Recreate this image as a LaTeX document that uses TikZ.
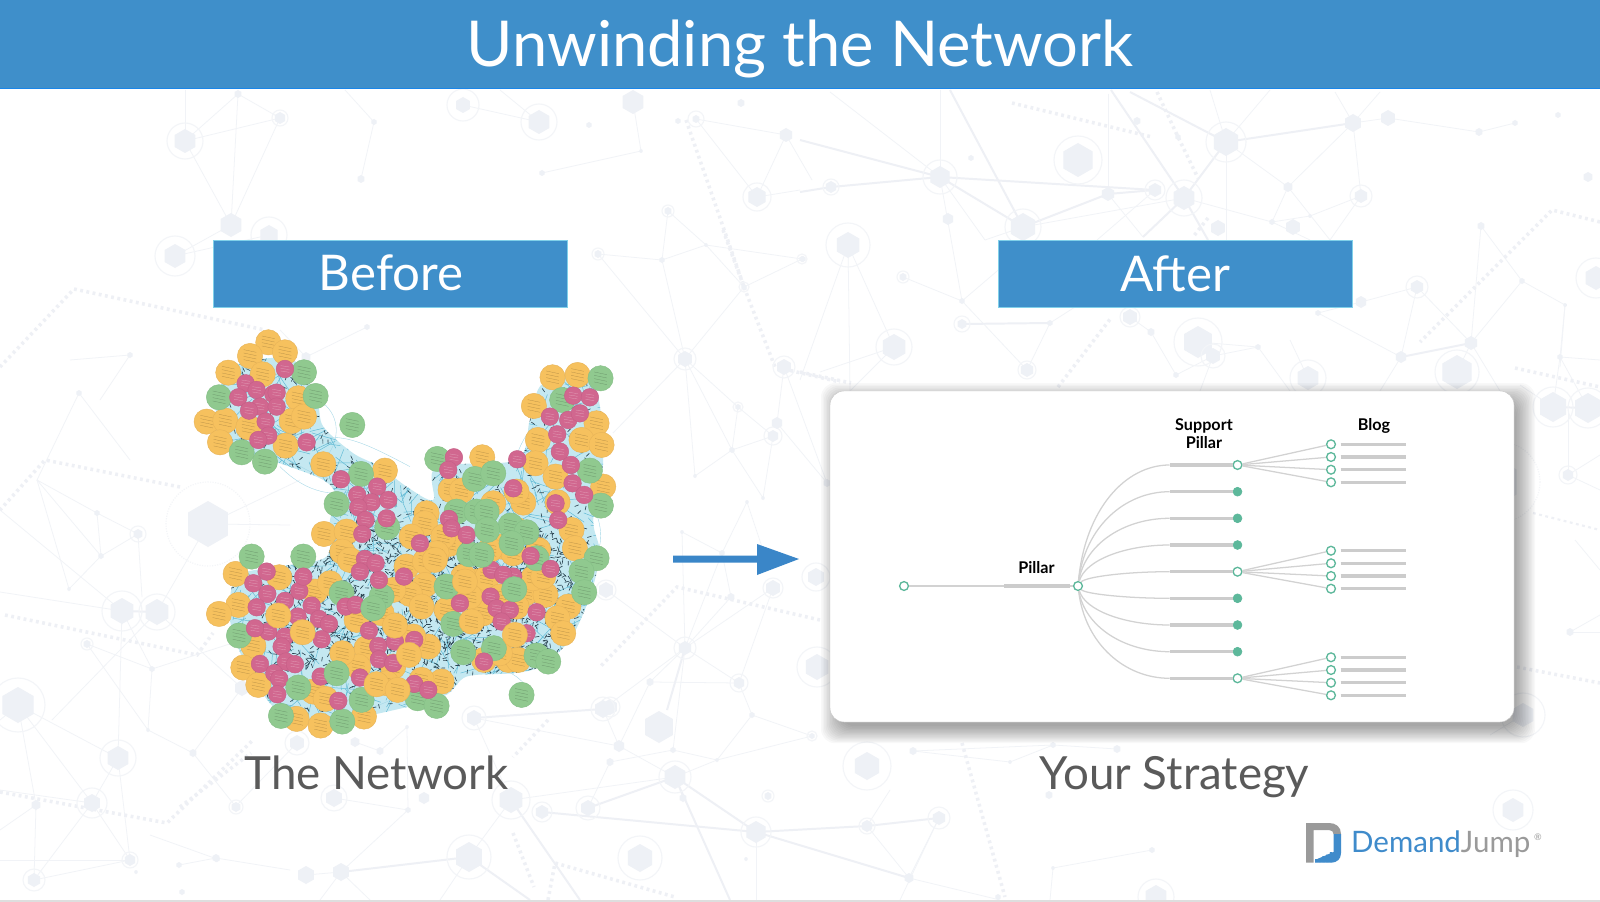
\documentclass[tikz,border=0pt]{standalone}
\usepackage{fontspec}
\setmainfont{Lato}
\definecolor{barblue}{HTML}{3F8FCA}
\definecolor{arrowblue}{HTML}{3A86C8}
\definecolor{bghex}{HTML}{EEF1F6}
\definecolor{bgring}{HTML}{F3F5F8}
\definecolor{bgedge}{HTML}{F1F3F7}
\definecolor{bgthick}{HTML}{EEF0F5}
\definecolor{capgray}{HTML}{5A5A5A}
\definecolor{treegreen}{HTML}{5DB89B}
\definecolor{treebar}{HTML}{CCCCCC}
\definecolor{treeline}{HTML}{D2D2D2}
\definecolor{ycol}{HTML}{F6C15E}
\definecolor{yedge}{HTML}{E8B458}
\definecolor{gcol}{HTML}{90C98F}
\definecolor{gedge}{HTML}{84BF86}
\definecolor{mcol}{HTML}{D1678F}
\definecolor{medge}{HTML}{C55E86}
\definecolor{webcol}{HTML}{C4E8F1}
\definecolor{webline}{HTML}{62BBD5}
\definecolor{webdash}{HTML}{2A4350}
\definecolor{logogray}{HTML}{9A9A9A}
\definecolor{logoblue}{HTML}{3F8BCB}
\tikzset{
  bge/.style={bgedge,line width=1.1pt},
  bgt/.style={bgthick,line width=2.8pt},
  bgd/.style={bgthick,line width=5pt,dash pattern=on 4pt off 5pt},
  openn/.style={circle,draw=treegreen,fill=white,line width=1.9pt,minimum size=12.5pt,inner sep=0pt},
  filln/.style={circle,draw=treegreen,fill=treegreen,line width=1pt,minimum size=12.5pt,inner sep=0pt},
  barline/.style={treebar,line width=5pt},
  link/.style={treeline,line width=1.8pt},
  cardlabel/.style={font=\bfseries\fontsize{23}{25}\selectfont,text=black,inner sep=0pt,anchor=base,align=center},
  boxlabel/.style={font=\fontsize{70}{72}\selectfont,text=white,inner sep=0pt,anchor=base},
  caplabel/.style={font=\fontsize{65}{68}\selectfont,text=capgray,inner sep=0pt,anchor=base},
}
\newcommand\hx[4]{%
  \fill[bghex] (#1,#2) +(30:#3)--+(90:#3)--+(150:#3)--+(210:#3)--+(270:#3)--+(330:#3)--cycle;
  \ifnum#4>0 \draw[bgring,line width=1.6pt] (#1,#2) circle (#4);\fi}
\newcommand\disc[4]{%
  \fill[#1,draw=#2,line width=.6pt] (#3,#4) circle (38);
  \foreach \ql in {-15,-5,5,15}{\draw[black,opacity=.25,line width=.4pt] (#3-19,#4+\ql-4)--(#3+19,#4+\ql+4);}}
\newcommand\pdisc[2]{%
  \fill[mcol,draw=medge,line width=.6pt] (#1,#2) circle (26.5);
  \foreach \ql in {-8,0,8}{\draw[white,opacity=.4,line width=.4pt] (#1-13,#2+\ql-2)--(#1+13,#2+\ql+2);}}
\begin{document}
\begin{tikzpicture}[x=0.05cm,y=-0.05cm]
\useasboundingbox (0,0) rectangle (1600,902);
\fill[white] (0,0) rectangle (1600,902);
% ---------- faint background network
\foreach \pa/\pb/\pc/\pd in {
185/141/238/94,238/94/280/118,280/118/185/141,185/141/231/225,231/225/280/118,238/94/231/225,185/90/185/141,345/90/374/122,374/122/361/179,542/173/641/151,641/151/633/102,463/105/539/122,539/122/500/90,231/225/175/256,175/256/269/235,
696/119/786/135,786/135/757/197,696/119/757/197,786/135/812/180,757/197/800/190,668/211/662/260,662/260/685/359,668/211/706/245,706/245/744/287,744/287/685/359,598/254/662/260,662/260/706/245,598/254/685/359,744/287/802/259,706/245/802/259,
685/359/738/407,685/359/732/450,685/359/695/476,685/359/613/433,738/407/732/450,732/450/695/476,732/450/773/436,732/450/763/498,738/407/773/436,773/436/763/498,784/367/777/423,784/367/827/483,777/423/827/483,
682/532/722/553,747/502/722/553,747/502/763/550,722/553/731/597,682/532/685/648,722/553/685/648,731/597/685/648,773/588/685/648,773/588/739/683,685/648/606/590,685/648/650/682,685/648/739/683,650/682/739/683,650/682/619/746,685/648/673/750,739/683/752/715,685/648/603/709,
940/90/940/177,830/92/940/177,1108/94/1108/194,1023/227/1184/198,1226/142/1288/187,1288/187/1353/123,1353/123/1361/196,1353/123/1388/118,1226/142/1226/240,1226/142/1270/90,1353/123/1335/92,1353/123/1380/92,1226/142/1210/90,1288/187/1272/222,1361/196/1310/216,1361/196/1330/240,1310/216/1272/222,1184/198/1272/222,1272/222/1310/240,1288/187/1330/240,1388/118/1479/132,1479/132/1515/123,
1155/190/1097/240,1108/194/1143/237,940/177/985/240,1023/227/985/240,848/245/800/380,848/245/894/347,848/245/850/391,903/277/962/301,962/301/940/177,962/301/1027/370,962/301/1010/260,1050/323/1027/370,1050/323/1075/307,1130/317/1151/332,1151/332/1176/375,1213/356/1258/347,1198/342/1258/347,1213/356/1176/375,1213/356/1200/391,1308/378/1290/340,1258/347/1290/391,894/347/820/372,894/347/850/391,
1471/343/1417/287,1401/357/1417/287,1417/287/1361/302,1361/302/1318/313,1318/313/1401/357,1471/343/1481/226,1481/226/1522/281,1522/281/1565/305,1522/281/1471/343,1565/305/1560/367,1457/372/1471/343,1401/357/1380/391,1471/343/1500/391,
1553/407/1560/357,1560/357/1600/360,1560/357/1565/305,1560/357/1588/408,1553/407/1520/385,1568/475/1600/455,1568/475/1600/490,1568/410/1568/475,1570/632/1600/615,1570/632/1600/632,1575/540/1600/570,1523/715/1490/735,
79/393/37/480,79/393/130/460,37/480/97/513,97/513/138/534,97/513/101/556,37/480/101/556,37/480/69/589,101/556/138/534,101/556/69/589,138/534/142/597,0/510/122/611,0/592/122/611,157/612/208/524,157/612/52/720,122/611/118/758,122/611/152/669,157/612/242/688,87/644/152/669,87/644/148/730,152/669/148/730,152/669/242/640,148/730/193/753,193/753/236/807,193/753/242/688,18/705/118/758,18/705/36/805,18/705/92/803,18/705/0/720,118/758/92/803,118/758/130/860,92/803/130/860,92/803/34/880,36/805/0/830,36/805/34/880,92/803/0/790,0/860/130/860,34/880/130/860,216/858/179/865,216/858/290/870,208/524/300/480,208/524/290/525,306/357/367/327,306/357/280/330,130/355/70/360,130/355/100/400,
474/718/619/746,474/718/511/800,619/746/603/709,619/746/675/777,675/777/717/760,588/808/610/762,610/762/673/750,673/750/717/760,717/760/812/736,812/736/752/715,752/715/717/760,867/826/909/878,939/818/909/878,756/832/756/900,469/857/511/800,469/857/440/900,408/810/341/872,408/810/334/798,341/872/306/875,341/872/320/900,341/872/370/900,1053/745/1117/749,1053/745/913/751,1053/745/1010/762,1010/762/913/751,909/878/1000/900,1152/850/1053/868,1053/868/1050/900,675/777/511/800,217/859/150/835,407/727/380/751,380/751/355/742,407/727/408/810,297/743/235/807,675/777/683/798,867/826/890/790,939/818/900/900
}{\draw[bge] (\pa,\pb)--(\pc,\pd);}
\foreach \pa/\pb/\pc/\pd in {
800/140/940/177,831/187/940/177,800/192/831/187,940/177/1155/190,940/177/1023/227,1023/227/1108/194,1226/142/1353/123,1226/142/1184/198,1108/194/1155/190,950/90/1023/227,1111/90/1184/198,1130/92/1226/142,1184/198/1143/237,1184/198/1208/240,962/324/1050/323,1401/357/1471/343,
474/718/603/709,675/777/588/808,675/777/756/832,542/812/756/832,756/832/867/826,867/826/939/818,756/832/909/878,675/777/730/900,469/857/341/872,469/857/530/900,511/800/580/900,1553/407/1588/408,122/611/157/612,685/648/667/710
}{\draw[bgt] (\pa,\pb)--(\pc,\pd);}
\draw[bgd] (0,367)--(74,289)--(265,330);
\draw[bgd] (686,120)--(744,287)--(775,367)--(840,382);
\draw[bgd] (723,230)--(744,287);
\draw[bgd] (1012,103)--(1152,137);
\draw[bgd] (1157,92)--(1178,137)--(1198,178);
\draw[bgd] (1208,218)--(1193,237);
\draw[bgd] (1600,222)--(1552,210)--(1420,342);
\draw[bgd] (1058,387)--(1111,318);
\draw[bgd] (800,372)--(851,383);
\draw[bgd] (180,487)--(45,460)--(0,510);
\draw[bgd] (5,615)--(197,655)--(213,633);
\draw[bgd] (0,792)--(167,823)--(253,740);
\draw[bgd] (820,620)--(677,587)--(600,667);
\draw[bgd] (1515,368)--(1600,387);
\draw[bgd,line width=3pt] (1533,513)--(1600,530);
\draw[bgd] (1517,667)--(1600,683);
\draw[bgd] (548,720)--(513,757);
\draw[bgd] (513,833)--(534,887);
\draw[bgd] (548,900)--(555,863)--(675,897);
\draw[bgd] (962,743)--(1005,897);
\draw[bgd] (180,807)--(251,753);
\draw[bgring,line width=1.6pt,dotted] (208,524) circle (42);
\draw[bgring,line width=1.6pt,dotted] (1500,482) circle (40);
\foreach \xa/\ya/\ra/\qa in {
185/141/12/18,280/118/6/8,238/94/4/0,374/122/3/0,361/179/4/0,231/225/12/0,269/235/10/18,175/256/12/20,463/105/8/16,539/122/12/18,633/102/12/0,589/125/3/0,542/173/3/0,641/151/2/0,741/103/4/0,696/119/4/8,678/121/3/0,786/135/7/0,757/197/10/14,668/211/4/6,598/254/4/6,662/260/3/0,706/245/2/0,744/287/3/5,685/359/8/11,367/327/3/0,306/357/5/0,130/355/3/0,
802/259/3/5,738/407/3/5,732/450/3/0,773/436/6/9,777/423/6/0,784/367/8/11,695/476/2/0,763/498/2/0,747/502/2/0,682/532/2/0,722/553/3/0,731/597/4/0,773/588/8/10,685/648/7/11,816/577/9/14,817/667/13/20,650/682/4/0,739/683/6/9,606/590/8/10,610/707/8/10,827/483/4/0,
1226/142/14/20,1353/123/9/0,1388/118/8/0,940/177/11/17,831/187/6/8,1155/190/7/10,1108/194/7/0,1184/198/12/18,1078/160/17/24,1023/227/14/18,1288/187/5/0,1361/196/7/11,1272/222/3/0,1310/216/2/0,1218/228/8/0,1293/227/8/0,848/245/13/22,803/259/3/0,903/277/4/6,962/301/3/0,962/324/5/8,1050/323/3/0,1130/317/8/10,1151/332/4/0,1198/342/16/24,1213/356/8/12,1258/347/3/0,894/347/13/18,1027/370/7/9,1308/378/12/18,1401/357/6/0,1457/372/17/22,1471/343/7/0,1417/287/7/11,1361/302/6/0,1318/313/3/0,1522/281/3/0,1565/305/2/0,1481/226/4/0,1588/177/5/0,1596/278/12/20,1560/357/3/0,1479/132/4/0,1558/115/3/0,1515/123/3/0,1176/375/3/0,971/158/3/0,948/219/6/0,1137/121/4/0,1178/137/3/0,
1553/407/15/20,1588/408/15/20,1568/475/6/9,1570/632/4/0,1523/715/12/22,1513/810/12/20,1495/482/25/0,
79/393/3/0,97/513/3/0,138/534/5/8,101/556/3/0,69/589/2/0,208/524/23/0,122/611/13/20,157/612/13/18,87/644/4/6,152/669/3/0,148/730/2/0,193/753/4/0,18/705/18/27,118/758/12/18,92/803/9/15,36/805/5/0,130/860/6/8,34/880/7/11,236/807/5/7,216/858/4/0,179/865/3/0,136/872/2/0,182/892/3/0,242/688/8/0,
474/718/8/12,603/709/9/12,659/727/16/0,752/715/3/0,812/736/3/5,297/743/8/12,355/742/5/0,380/751/4/0,407/727/2/0,619/746/6/0,673/750/3/0,610/762/4/0,717/760/2/0,675/777/12/16,867/766/14/24,683/798/4/0,768/796/4/6,913/751/4/0,1010/762/2/0,1053/745/3/0,1117/749/4/0,1049/795/4/0,334/798/9/13,424/798/6/0,511/800/13/19,542/812/7/10,588/808/8/12,408/810/3/0,756/832/11/15,867/826/6/8,939/818/7/11,469/857/15/22,640/858/14/22,341/872/9/0,306/875/9/0,909/878/5/0,1152/850/3/0,1053/868/2/0,1156/897/12/18,998/897/3/0,217/859/3/0,746/859/2/0
}{\hx{\xa}{\ya}{\ra}{\qa}}
\fill[black!13] (0,899.5) rectangle (1600,902);
% ---------- header and boxes
\fill[barblue] (0,0) rectangle (1600,88.5);
\draw[blue!50!cyan!60!barblue,line width=1pt] (0,88.8)--(1600,88.8);
\node[font=\fontsize{90}{94}\selectfont,text=white,inner sep=0pt,anchor=base] (title) at (800,67) {Unwinding the Network};
\node[fill=barblue,draw=barblue!70!cyan!60!white,line width=.8pt,minimum width=17.7cm,minimum height=3.37cm,inner sep=0pt] (beforebox) at (390,273.5) {};
\node[fill=barblue,draw=barblue!70!cyan!60!white,line width=.8pt,minimum width=17.7cm,minimum height=3.37cm,inner sep=0pt] (afterbox) at (1175,273.5) {};
\node[boxlabel] (beforetxt) at (391,290) {Before};
\node[boxlabel] (aftertxt) at (1175.5,291) {After};
\node[caplabel] (nettxt) at (376.5,789) {The Network};
\node[caplabel] (strtxt) at (1174.5,789) {Your Strategy};
% ---------- arrow
\fill[arrowblue] (673,555.5)--(757,555.5)--(757,544)--(799,559)--(757,575)--(757,562.5)--(673,562.5)--cycle;
% ---------- network image
\begin{scope}[shift={(180,320)},x=0.016667cm,y=-0.016667cm]
\def\blob{plot[smooth cycle,tension=.5] coordinates {(180,130)(340,120)(410,240)(430,320)(520,400)(600,440)(680,500)(760,540)(770,440)(1010,420)(1050,300)(1090,190)(1240,190)(1270,420)(1240,600)(1260,700)(1230,830)(1170,960)(1080,1040)(1000,1060)(860,1070)(790,1130)(600,1180)(420,1210)(290,1170)(200,1040)(150,900)(170,770)(300,740)(440,710)(450,600)(470,530)(430,480)(300,430)(180,390)(110,300)(120,200)}}
\fill[webcol] \blob;
\draw[webline!60!white,line width=.5pt] (330,420) .. controls (420,480) and (500,500) .. (600,470);
\draw[webline!60!white,line width=.5pt] (300,440) .. controls (380,520) and (470,540) .. (560,500);
\draw[webline!60!white,line width=.5pt] (380,370) .. controls (470,330) and (540,360) .. (690,440);
\draw[webline!60!white,line width=.5pt] (430,250) .. controls (480,290) and (480,360) .. (440,410);
\draw[webline!60!white,line width=.5pt] (1060,320) .. controls (1030,350) and (1010,400) .. (1000,440);
\draw[webline!60!white,line width=.5pt] (1040,1100) .. controls (1000,1050) and (960,1050) .. (920,1030);
\draw[webline!60!white,line width=.5pt] (1240,560) .. controls (1270,620) and (1270,680) .. (1240,720);
\draw[webline!60!white,line width=.5pt] (530,1180) .. controls (620,1150) and (680,1120) .. (720,1090);
\begin{scope}
\clip \blob;
\pgfmathsetseed{11}
\foreach \i in {1,...,1100}{
  \pgfmathsetmacro\xa{100+rnd*1200}\pgfmathsetmacro\ya{110+rnd*1110}\pgfmathsetmacro\an{rnd*360}\pgfmathsetmacro\ln{30+rnd*70}
  \draw[webline,line width=.7pt] (\xa,\ya)--++(\an:\ln);
}
\foreach \i in {1,...,1300}{
  \pgfmathsetmacro\xa{100+rnd*1200}\pgfmathsetmacro\ya{110+rnd*1110}\pgfmathsetmacro\an{rnd*180}
  \draw[webdash,line width=.9pt] (\xa,\ya)--++(\an:13);
}
\foreach \i in {1,...,1500}{
  \pgfmathsetmacro\xa{300+rnd*900}\pgfmathsetmacro\ya{620+rnd*430}\pgfmathsetmacro\an{rnd*180}
  \draw[webdash,line width=.9pt] (\xa,\ya)--++(\an:13);
}
\end{scope}
% yellow layer
\foreach \xa/\ya in {265/67,315/97,210/108,145/158,248/163,80/305,136/302,120/367,205/322,355/235,335/303,372/290,317/377,430/433,615/452,432/642,500/635,487/695,510/720,
1118/172,1193/165,1062/258,1074/360,1250/310,1205/360,1265/375,1067/430,1127/470,1270/500,1133/547,1175/630,1185/685,907/412,812/510,845/512,1030/548,940/550,1010/515,740/580,735/610,695/650,808/672,963/680,790/650,770/700,1000/700,1075/690,930/690,1010/630,
680/740,735/725,765/720,735/795,690/822,725/860,890/785,1037/820,1097/825,1165/860,1133/895,1150/940,910/880,912/1020,985/1020,1015/1020,1060/775,1010/860,920/775,820/830,800/870,960/830,870/830,850/770,1090/770,960/1000,
167/762,298/772,405/815,175/855,117/882,220/977,190/1043,235/1095,400/1115,437/1137,350/1197,422/1217,552/1190,785/1085,725/1080,745/980,640/1040,560/985,530/900,605/880,640/810,700/950,535/1040,450/790,620/1090}{\disc{ycol}{yedge}{\xa}{\ya}}
% green layer
\foreach \xa/\ya in {372/157,117/232,407/228,185/397,255/425,517/315,543/462,470/552,622/622,1262/175,1147/240,1230/452,1263/557,1250/715,1205/755,1213/817,772/417,885/477,940/460,830/575,890/575,920/575,992/617,1040/637,995/670,868/703,1070/715,800/800,820/912,850/997,942/985,1070/1007,1105/1025,1025/1125,215/710,370/710,177/947,485/820,605/830,303/1188,487/1205,545/1140,713/1135,770/1158}{\disc{gcol}{gedge}{\xa}{\ya}}
% pink layer
\foreach \xa/\ya in {315/147,197/190,175/232,230/210,280/222,290/218,240/260,290/260,207/272,257/305,265/347,235/360,380/367,483/478,592/500,532/525,575/547,625/540,535/562,557/600,620/595,547/642,
1180/227,1230/232,1110/290,1165/300,1200/280,1132/343,1140/395,1173/435,1178/490,1213/525,1127/550,1135/600,822/412,805/450,1012/418,1000/505,807/597,815/625,720/670,860/645,1052/708,1112/747,1000/770,672/770,935/750,970/765,932/830,840/850,950/865,990/870,1070/877,965/905,1040/940,912/1025,
260/755,220/790,262/822,315/843,358/813,370/770,395/857,230/862,353/890,265/935,225/925,417/897,447/912,425/958,315/950,305/980,240/1032,318/1025,345/1033,283/1060,298/1077,292/1123,422/1070,475/1143,540/1073,497/860,527/855,597/780,555/717,587/730,540/755,567/932,595/978,597/1018,640/1030,703/960,645/965,703/1092,745/1110}{\pdisc{\xa}{\ya}}
% top layer
\foreach \xa/\ya in {855/785,875/905,1005/945,687/1005,590/1093,653/1110,487/1000,295/887,368/937,645/917}{\disc{ycol}{yedge}{\xa}{\ya}}
\foreach \xa/\ya in {355/1103,470/1060,580/865,1003/808,922/630,905/705}{\disc{gcol}{gedge}{\xa}{\ya}}
\end{scope}
% ---------- card
\foreach \k in {1,...,14}{
  \fill[black,opacity=.026,rounded corners=20pt] (842-1.5*\k,404-1.5*\k) rectangle (1514+1.5*\k,725+1.3*\k);
}
\fill[white,rounded corners=20pt] (830,391) rectangle (1514,722);
\draw[black!22,line width=.6pt,rounded corners=20pt] (830,391) rectangle (1514,722);
% tree
\node[openn] (root) at (904,586) {};
\node[openn] (pil) at (1078,586) {};
\coordinate (pa) at (1004,586);
\coordinate (pb) at (1070,586);
\draw[link] (root)--(pa);
\draw[barline] (pa)--(pb);
\draw[link] (pb)--(pil);
\node[cardlabel] (piltxt) at (1036.5,573) {Pillar};
\node[cardlabel] (sptxt) at (1204,430) {Support};
\node[cardlabel] (sptxtb) at (1204,448.5) {Pillar};
\node[cardlabel] (blogtxt) at (1374,430) {Blog};
\foreach \i/\ya/\st in {1/465/openn,2/491.7/filln,3/518.3/filln,4/545/filln,5/571.7/openn,6/598.3/filln,7/625/filln,8/651.7/filln,9/678.3/openn}{
  \node[\st] (s\i) at (1237.5,\ya) {};
  \coordinate (sa\i) at (1169.5,\ya);
  \coordinate (sb\i) at (1233,\ya);
  \pgfmathsetmacro\ym{586+(\ya-586)*0.63}
  \draw[link] (pil) .. controls (1085,\ym) and (1125,\ya) .. (sa\i);
  \draw[barline] (sa\i)--(sb\i);
}
\foreach \g/\sn/\yy in {1/1/444.3,2/1/457,3/1/469.7,4/1/482.3,5/5/550.7,6/5/563.3,7/5/576,8/5/588.7,9/9/657.3,10/9/670,11/9/682.7,12/9/695.3}{
  \node[openn] (b\g) at (1331,\yy) {};
  \coordinate (ba\g) at (1340.5,\yy);
  \coordinate (bb\g) at (1406,\yy);
  \draw[link] (s\sn)--(b\g);
  \draw[barline] (ba\g)--(bb\g);
}
% ---------- logo
\fill[logogray] (1306,823)--(1329,823) .. controls (1336,823) and (1341,827) .. (1341,834)--(1333.5,834) .. controls (1333.5,832) and (1332,830) .. (1329,830)--(1313.5,830)--(1313.5,862.7)--(1306,862.7)--cycle;
\fill[logoblue] (1333.5,834)--(1341,834)--(1341,853) .. controls (1341,859) and (1337,862.7) .. (1331,862.7)--(1315,862.7)--(1315,860)--(1333.5,852)--cycle;
\fill[logoblue] (1315,859)rectangle(1317.5,862) (1318.7,858)rectangle(1321.2,862) (1322.4,856)rectangle(1324.9,862) (1326.1,854.5)rectangle(1328.6,862) (1329.8,852)rectangle(1332.3,862);
\node[font=\fontsize{42}{44}\selectfont,inner sep=0pt,anchor=base west] (logotxt) at (1351,852) {\textcolor{logoblue}{Demand}\textcolor{logogray}{Jump}};
\node[font=\fontsize{13}{14}\selectfont,text=logogray,inner sep=0pt] (logor) at (1538,837) {®};
\end{tikzpicture}
\end{document}
